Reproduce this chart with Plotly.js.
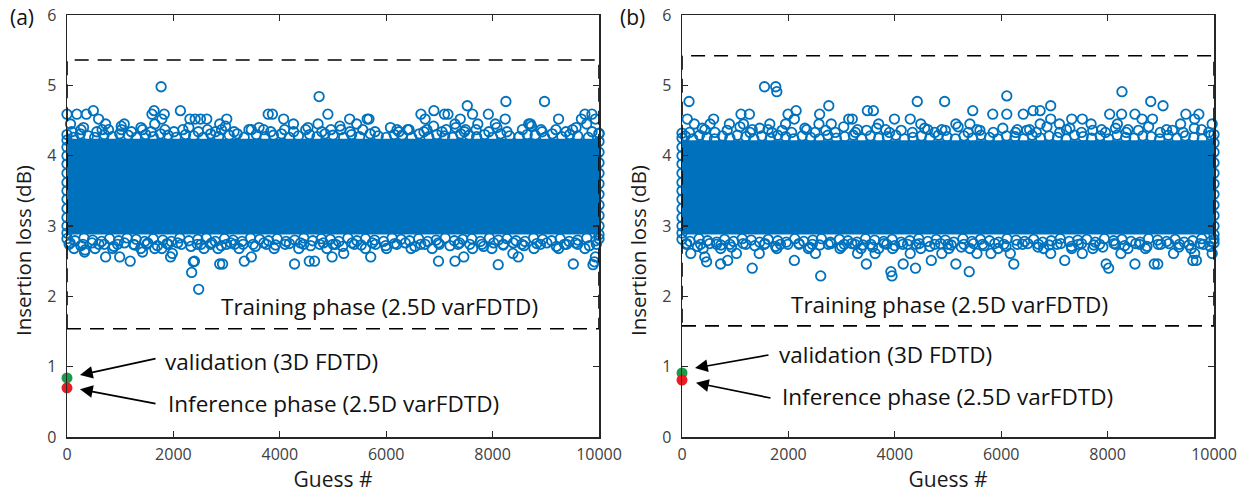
<!DOCTYPE html>
<html><head><meta charset="utf-8">
<script src="https://cdn.plot.ly/plotly-3.0.1.min.js"></script>
<style>html,body{margin:0;padding:0;background:#fff}#chart{width:1245px;height:495px}</style>
</head><body><div id="chart"></div>
<script>
// ---------------- DATA ----------------
const guessRange = [0, 10000];
const xTicks = [0, 2000, 4000, 6000, 8000, 10000];
const yTicks = [0, 1, 2, 3, 4, 5, 6];

// dense training core (solid band) : [low, high] insertion loss (dB)
const coreA = [2.88, 4.24];
const coreB = [2.88, 4.22];
// dashed "training phase" box : [low, high]
const boundsA = [1.54, 5.36];
const boundsB = [1.58, 5.42];

// inference / validation results (guess #0)
const resultGuess = [0, 0];
const inferenceLoss = [0.70, 0.81];   // (a), (b)
const validationLoss = [0.84, 0.91];  // (a), (b)

// ---- panel (a) training guesses ----
const guessA_top = [1769,4739,8250,8976,7524,495,1637,2132,6897,
  0,185,363,1597,1828,3782,3861,4904,6653,7095,7161,7623,7920,9735,9867,
  594,1782,2310,2409,2508,2627,3003,4072,5313,5643,5676,6732,7392,8237,9240,9669,9933,
  66,726,1076,1650,2871,4257,4719,5445,7293,7722,8679,8712,8052,9768,
  264,660,1023,1419,2178,2904,3465,3696,4488,5148,6204,6402,6765,7128,7491,8910,9504];
const lossA_top = [4.98,4.84,4.77,4.77,4.71,4.64,4.64,4.64,4.64,
  4.59,4.59,4.59,4.59,4.59,4.59,4.59,4.59,4.59,4.59,4.59,4.59,4.59,4.59,4.59,
  4.52,4.52,4.52,4.52,4.52,4.52,4.52,4.52,4.52,4.52,4.52,4.52,4.52,4.52,4.52,4.52,4.52,
  4.45,4.45,4.45,4.45,4.45,4.45,4.45,4.45,4.45,4.45,4.45,4.45,4.45,4.45,
  4.37,4.37,4.37,4.37,4.37,4.37,4.37,4.37,4.37,4.37,4.37,4.37,4.37,4.37,4.37,4.37,4.37];
const guessA_edgeHi = [0,120,250,400,520,700,850,990,1150,1300,
  1480,1620,1760,1900,2050,2230,2380,2560,2700,2850,
  3050,3200,3330,3560,3720,3880,4030,4180,4350,4560,
  4700,4850,5000,5200,5350,5500,5700,5850,6000,6150,
  6300,6480,6620,6800,6950,7100,7250,7400,7560,7700,
  7850,8000,8150,8320,8500,8650,8800,8980,9120,9300,
  9450,9600,9800,10000];
const lossA_edgeHi = [4.30,4.26,4.31,4.28,4.26,4.30,4.27,4.31,4.29,4.26,
  4.30,4.27,4.31,4.29,4.26,4.30,4.28,4.26,4.31,4.27,
  4.29,4.31,4.26,4.30,4.27,4.29,4.31,4.26,4.28,4.30,
  4.27,4.31,4.29,4.26,4.30,4.27,4.31,4.28,4.26,4.30,
  4.29,4.26,4.31,4.27,4.30,4.28,4.26,4.31,4.29,4.27,
  4.30,4.26,4.31,4.28,4.27,4.30,4.29,4.26,4.31,4.27,
  4.30,4.28,4.26,4.31];
const guessA_fringeHi = [90,310,560,780,1020,1210,1390,1580,1840,2010,
  2290,2470,2640,2790,2980,3140,3420,3610,3830,4090,
  4260,4530,4790,4960,5130,5320,5560,5790,6080,6240,
  6430,6710,6890,7050,7310,7470,7690,7930,8080,8270,
  8560,8730,8930,9190,9380,9570,9870];
const lossA_fringeHi = [4.34,4.40,4.34,4.37,4.42,4.34,4.40,4.34,4.37,4.34,
  4.40,4.34,4.37,4.34,4.42,4.34,4.37,4.40,4.34,4.37,
  4.34,4.40,4.34,4.37,4.42,4.34,4.37,4.34,4.40,4.34,
  4.37,4.34,4.42,4.34,4.40,4.34,4.37,4.34,4.40,4.34,
  4.37,4.42,4.34,4.37,4.34,4.40,4.34];
const guessA_edgeLo = [0,150,320,480,650,800,970,1130,1300,1460,
  1620,1800,1960,2120,2290,2460,2620,2790,2960,3120,
  3290,3450,3620,3790,3950,4120,4280,4450,4620,4780,
  4950,5110,5280,5450,5610,5780,5950,6110,6280,6440,
  6610,6780,6940,7110,7280,7440,7610,7770,7940,8110,
  8270,8440,8610,8770,8940,9110,9270,9440,9600,9770,
  9940,10000];
const lossA_edgeLo = [2.82,2.79,2.83,2.80,2.78,2.82,2.79,2.83,2.81,2.78,
  2.82,2.80,2.78,2.83,2.79,2.81,2.83,2.78,2.82,2.80,
  2.78,2.83,2.81,2.79,2.82,2.78,2.80,2.83,2.79,2.82,
  2.81,2.78,2.83,2.79,2.82,2.80,2.78,2.83,2.81,2.79,
  2.82,2.78,2.80,2.83,2.79,2.81,2.82,2.78,2.83,2.80,
  2.82,2.79,2.78,2.83,2.81,2.79,2.82,2.78,2.80,2.83,
  2.79,2.82];
const guessA_fringeLo = [60,260,470,700,880,1080,1270,1520,1700,1880,
  2080,2330,2520,2720,2900,3080,3310,3540,3700,3920,
  4180,4390,4580,4820,5000,5180,5360,5530,5740,5990,
  6160,6360,6540,6730,6980,7200,7380,7570,7830,8020,
  8200,8390,8590,8830,9020,9200,9390,9560,9820];
const lossA_fringeLo = [2.76,2.72,2.76,2.74,2.71,2.76,2.73,2.76,2.72,2.75,
  2.76,2.71,2.74,2.76,2.72,2.76,2.74,2.71,2.76,2.73,
  2.75,2.76,2.72,2.76,2.74,2.71,2.76,2.73,2.76,2.72,
  2.75,2.76,2.71,2.74,2.76,2.72,2.76,2.74,2.71,2.76,
  2.73,2.76,2.72,2.75,2.76,2.71,2.74,2.76,2.72];
const guessA_low = [40,300,600,950,1250,1500,1900,2150,2450,2700,
  3000,3150,3500,3750,4100,4450,4750,5050,5400,5800,
  6200,6650,7000,7350,7800,8200,8550,8900,9350,9600,9950,
  132,528,858,1386,1650,1782,2574,2838,3234,3894,
  4356,4884,5610,6006,6468,6864,7623,7986,8778,9240,9735,
  2475,2343,2396,1188,726,990,2871,2924,3333,3465,
  4277,4554,4653,4983,5201,5709,6983,7293,7458,8105,
  8382,8481,9517,9887,9913,9933,330,1947,1980,1419,338,2375];
const lossA_low = [2.74,2.74,2.74,2.74,2.74,2.74,2.74,2.74,2.74,2.74,
  2.74,2.74,2.74,2.74,2.74,2.74,2.74,2.74,2.74,2.74,
  2.74,2.74,2.74,2.74,2.74,2.74,2.74,2.74,2.74,2.74,2.74,
  2.68,2.68,2.68,2.68,2.68,2.68,2.68,2.68,2.68,2.68,
  2.68,2.68,2.68,2.68,2.68,2.68,2.68,2.68,2.68,2.68,2.68,
  2.10,2.34,2.50,2.50,2.56,2.56,2.46,2.46,2.50,2.56,
  2.46,2.50,2.50,2.56,2.61,2.56,2.50,2.50,2.56,2.45,
  2.61,2.56,2.46,2.45,2.49,2.56,2.63,2.56,2.61,2.63,2.66,2.49];
const guessA_sides = [0,0,0,0,0,0,0,0,0,0,0,0,
  10000,10000,10000,10000,10000,10000,10000,10000,10000,10000,10000];
const lossA_sides = [4.22,4.12,4.00,3.88,3.75,3.62,3.50,3.38,3.25,3.12,3.00,2.90,
  4.32,4.20,4.05,3.90,3.75,3.60,3.45,3.30,3.15,3.00,2.88];

// ---- panel (b) training guesses ----
const guessB_top = [1551,1762,1782,132,8270,6105,4422,4937,8811,9042,2759,6930,2145,3485,3597,5465,6600,6732,0,
  1109,1267,1993,2587,5841,6105,6415,8039,8263,8514,9471,9715,
  99,594,2112,3135,3201,3993,4290,6930,7326,7524,8646,8844,9636,
  231,528,891,1155,1650,1947,2574,2805,3696,4488,5148,5412,6732,7095,7689,8184,9372,9966,
  429,1320,1617,2343,3300,3828,4620,4884,5544,6303,6534,7227,7887,8382,9108,9768];
const lossB_top = [4.98,4.98,4.91,4.77,4.91,4.85,4.77,4.77,4.77,4.71,4.71,4.71,4.64,4.64,4.64,4.64,4.64,4.64,4.32,
  4.59,4.59,4.59,4.59,4.59,4.59,4.59,4.59,4.59,4.59,4.59,4.59,
  4.52,4.52,4.52,4.52,4.52,4.52,4.52,4.52,4.52,4.52,4.52,4.52,4.52,
  4.45,4.45,4.45,4.45,4.45,4.45,4.45,4.45,4.45,4.45,4.45,4.45,4.45,4.45,4.45,4.45,4.45,4.45,
  4.37,4.37,4.37,4.37,4.37,4.37,4.37,4.37,4.37,4.37,4.37,4.37,4.37,4.37,4.37,4.37];
const guessB_edgeHi = [60,200,330,470,610,760,900,1040,1200,1350,
  1500,1660,1800,1950,2100,2260,2420,2580,2740,2900,
  3060,3220,3380,3540,3700,3860,4020,4180,4340,4500,
  4660,4820,4980,5140,5300,5460,5620,5780,5940,6100,
  6260,6420,6580,6740,6900,7060,7220,7380,7540,7700,
  7860,8020,8180,8340,8500,8660,8820,8980,9140,9300,
  9460,9620,9780,9940];
const lossB_edgeHi = [4.28,4.24,4.29,4.26,4.24,4.28,4.25,4.29,4.27,4.24,
  4.28,4.25,4.29,4.27,4.24,4.28,4.26,4.24,4.29,4.25,
  4.27,4.29,4.24,4.28,4.25,4.27,4.29,4.24,4.26,4.28,
  4.25,4.29,4.27,4.24,4.28,4.25,4.29,4.26,4.24,4.28,
  4.27,4.24,4.29,4.25,4.28,4.26,4.24,4.29,4.27,4.25,
  4.28,4.24,4.29,4.26,4.25,4.28,4.27,4.24,4.29,4.25,
  4.28,4.26,4.24,4.29];
const guessB_fringeHi = [140,380,620,850,1090,1280,1460,1690,1880,2060,
  2310,2500,2700,2880,3040,3260,3470,3660,3900,4120,
  4330,4560,4750,4950,5190,5380,5600,5850,6030,6270,
  6480,6660,6860,7100,7290,7510,7720,7960,8150,8350,
  8580,8770,8990,9220,9420,9630,9900];
const lossB_fringeHi = [4.33,4.39,4.33,4.36,4.41,4.33,4.39,4.33,4.36,4.33,
  4.39,4.33,4.36,4.33,4.41,4.33,4.36,4.39,4.33,4.36,
  4.33,4.39,4.33,4.36,4.41,4.33,4.36,4.33,4.39,4.33,
  4.36,4.33,4.41,4.33,4.39,4.33,4.36,4.33,4.39,4.33,
  4.36,4.41,4.33,4.36,4.33,4.39,4.33];
const guessB_edgeLo = [0,150,320,480,650,800,970,1130,1300,1460,
  1620,1800,1960,2120,2290,2460,2620,2790,2960,3120,
  3290,3450,3620,3790,3950,4120,4280,4450,4620,4780,
  4950,5110,5280,5450,5610,5780,5950,6110,6280,6440,
  6610,6780,6940,7110,7280,7440,7610,7770,7940,8110,
  8270,8440,8610,8770,8940,9110,9270,9440,9600,9770,
  9940,10000];
const lossB_edgeLo = [2.81,2.78,2.82,2.79,2.77,2.81,2.78,2.82,2.80,2.77,
  2.81,2.79,2.77,2.82,2.78,2.80,2.82,2.77,2.81,2.79,
  2.77,2.82,2.80,2.78,2.81,2.77,2.79,2.82,2.78,2.81,
  2.80,2.77,2.82,2.78,2.81,2.79,2.77,2.82,2.80,2.78,
  2.81,2.77,2.79,2.82,2.78,2.80,2.81,2.77,2.82,2.79,
  2.81,2.78,2.77,2.82,2.80,2.78,2.81,2.77,2.79,2.82,
  2.78,2.81];
const guessB_fringeLo = [90,290,520,730,930,1150,1370,1560,1760,1990,
  2200,2400,2590,2800,3000,3190,3400,3580,3800,4000,
  4240,4460,4660,4860,5060,5250,5480,5680,5880,6090,
  6300,6500,6690,6900,7120,7320,7510,7740,7910,8120,
  8320,8530,8740,8950,9150,9340,9530,9740,9930];
const lossB_fringeLo = [2.75,2.71,2.75,2.73,2.70,2.75,2.72,2.75,2.71,2.74,
  2.75,2.70,2.73,2.75,2.71,2.75,2.73,2.70,2.75,2.72,
  2.74,2.75,2.71,2.75,2.73,2.70,2.75,2.72,2.75,2.71,
  2.74,2.75,2.70,2.73,2.75,2.71,2.75,2.73,2.70,2.75,
  2.72,2.75,2.71,2.74,2.75,2.70,2.73,2.75,2.71];
const guessB_low = [80,350,650,900,1200,1550,1850,2200,2450,2750,
  3050,3250,3550,3850,4150,4400,4750,5000,5300,5650,
  6050,6400,6700,7050,7450,7850,8150,8600,9000,9350,9800,
  165,1023,1452,2508,3300,3630,4290,4884,5544,5808,6171,6930,7524,8250,9240,
  396,726,1782,2376,2970,3366,3696,3960,4488,5016,5412,5940,6798,7326,7722,8382,8712,9570,
  2607,3927,3947,5399,1320,726,858,462,429,2112,3465,4158,4389,
  4686,5148,6237,7194,7973,8019,8514,8877,8943,9603,9669,9636,9966];
const lossB_low = [2.74,2.74,2.74,2.74,2.74,2.74,2.74,2.74,2.74,2.74,
  2.74,2.74,2.74,2.74,2.74,2.74,2.74,2.74,2.74,2.74,
  2.74,2.74,2.74,2.74,2.74,2.74,2.74,2.74,2.74,2.74,2.74,
  2.61,2.61,2.61,2.61,2.61,2.61,2.61,2.61,2.61,2.61,2.61,2.61,2.61,2.61,2.61,
  2.68,2.68,2.68,2.68,2.68,2.68,2.68,2.68,2.68,2.68,2.68,2.68,2.68,2.68,2.68,2.68,2.68,2.68,
  2.29,2.35,2.29,2.35,2.40,2.46,2.51,2.49,2.56,2.51,2.46,2.46,2.40,
  2.51,2.46,2.46,2.51,2.46,2.40,2.46,2.46,2.46,2.51,2.51,2.61,2.61];
const guessB_sides = [0,0,0,0,0,0,0,0,0,0,0,0,
  10000,10000,10000,10000,10000,10000,10000,10000,10000,10000,10000,10000];
const lossB_sides = [4.25,4.12,4.00,3.88,3.75,3.62,3.50,3.38,3.25,3.12,3.00,2.90,
  4.30,4.18,4.05,3.90,3.75,3.60,3.45,3.30,3.15,3.00,2.88,2.76];

// ---------------- STYLE ----------------
const BLUE = '#0072BD';
const FONT = 'Open Sans, Noto Sans, sans-serif';

function cloud(xs, ys, xa, ya) {
  return {type:'scatter', mode:'markers', x:xs, y:ys, xaxis:xa, yaxis:ya, cliponaxis:false,
    hoverinfo:'skip',
    marker:{symbol:'circle-open', size:9.5, color:BLUE, line:{width:1.8}}};
}
function band(core, xa, ya) {
  return {type:'scatter', mode:'lines', xaxis:xa, yaxis:ya, fill:'toself', fillcolor:BLUE,
    line:{width:0, color:BLUE}, hoverinfo:'skip',
    x:[guessRange[0], guessRange[1], guessRange[1], guessRange[0]],
    y:[core[0], core[0], core[1], core[1]]};
}
function box(b, xa, ya) {
  return {type:'scatter', mode:'lines', xaxis:xa, yaxis:ya, cliponaxis:false, hoverinfo:'skip',
    x:[guessRange[0], guessRange[1], guessRange[1], guessRange[0], guessRange[0]],
    y:[b[0], b[0], b[1], b[1], b[0]],
    line:{color:'#000', width:1.6, dash:'14px,9px'}};
}
function dot(x, y, color, xa, ya) {
  return {type:'scatter', mode:'markers', x:[x], y:[y], xaxis:xa, yaxis:ya, cliponaxis:false,
    hoverinfo:'skip', marker:{symbol:'circle', size:11, color:color}};
}

const traces = [
  band(coreA, 'x', 'y'),
  cloud([].concat(guessA_top, guessA_fringeHi, guessA_edgeHi, guessA_edgeLo, guessA_fringeLo, guessA_low, guessA_sides),
        [].concat(lossA_top, lossA_fringeHi, lossA_edgeHi, lossA_edgeLo, lossA_fringeLo, lossA_low, lossA_sides), 'x', 'y'),
  box(boundsA, 'x', 'y'),
  dot(resultGuess[0], validationLoss[0], '#1b9a4b', 'x', 'y'),
  dot(resultGuess[0], inferenceLoss[0], '#ec1c24', 'x', 'y'),

  band(coreB, 'x2', 'y2'),
  cloud([].concat(guessB_top, guessB_fringeHi, guessB_edgeHi, guessB_edgeLo, guessB_fringeLo, guessB_low, guessB_sides),
        [].concat(lossB_top, lossB_fringeHi, lossB_edgeHi, lossB_edgeLo, lossB_fringeLo, lossB_low, lossB_sides), 'x2', 'y2'),
  box(boundsB, 'x2', 'y2'),
  dot(resultGuess[1], validationLoss[1], '#1b9a4b', 'x2', 'y2'),
  dot(resultGuess[1], inferenceLoss[1], '#ec1c24', 'x2', 'y2')
];

function xAxis(domain, anchor) {
  return {domain:domain, anchor:anchor, range:guessRange, tickvals:xTicks,
    ticktext:xTicks.map(String), ticks:'inside', ticklen:6, tickwidth:1.3, tickcolor:'#262626',
    showline:true, linecolor:'#262626', linewidth:1.5, mirror:'ticks', showgrid:false, zeroline:false,
    tickfont:{family:FONT, size:16, color:'#404040'}, ticklabelstandoff:2,
    title:{text:'Guess #', font:{family:FONT, size:21, color:'#1a1a1a'}, standoff:8}, automargin:false};
}
function yAxis(anchor) {
  return {domain:[0,1], anchor:anchor, range:[0,6], tickvals:yTicks,
    ticks:'inside', ticklen:6, tickwidth:1.3, tickcolor:'#262626',
    showline:true, linecolor:'#262626', linewidth:1.5, mirror:'ticks', showgrid:false, zeroline:false,
    tickfont:{family:FONT, size:16, color:'#404040'}, ticklabelstandoff:6, automargin:false};
}

const txtFont = {family:FONT, size:22.5, color:'#111'};
function label(text, x, y, xa, ya, anchor) {
  return {text:text, x:x, y:y, xref:xa, yref:ya, showarrow:false, xanchor:anchor, yanchor:'middle', font:txtFont};
}
function arrow(x, y, ax, ay, xa, ya) {
  return {text:'', x:x, y:y, ax:ax, ay:ay, xref:xa, yref:ya, axref:xa, ayref:ya,
    showarrow:true, arrowhead:2, arrowsize:1.5, arrowwidth:1.7, arrowcolor:'#000', standoff:0, startstandoff:0};
}
function yTitle(xpx) {
  return {text:'Insertion loss (dB)', textangle:-90, x:xpx/1245, y:(437-251)/422, xref:'paper', yref:'paper',
    xanchor:'center', yanchor:'middle', showarrow:false, font:{family:FONT, size:20.5, color:'#1a1a1a'}};
}

const layout = {
  width:1245, height:495,
  margin:{l:0, r:0, t:15, b:58},
  paper_bgcolor:'#fff', plot_bgcolor:'#fff', showlegend:false,
  font:{family:FONT},
  xaxis: xAxis([67/1245, 599/1245], 'y'),
  yaxis: yAxis('x'),
  xaxis2: xAxis([682/1245, 1214/1245], 'y2'),
  yaxis2: yAxis('x2'),
  annotations:[
    {text:'(a)', x:8/1245, y:(437-17)/422, xref:'paper', yref:'paper', xanchor:'left', yanchor:'middle', showarrow:false, font:{family:FONT, size:21, color:'#111'}},
    {text:'(b)', x:618/1245, y:(437-17)/422, xref:'paper', yref:'paper', xanchor:'left', yanchor:'middle', showarrow:false, font:{family:FONT, size:21, color:'#111'}},
    yTitle(23), yTitle(638),
    label('Training phase (2.5D varFDTD)', 5883, 1.86, 'x', 'y', 'center'),
    label('validation (3D FDTD)', 1805, 1.07, 'x', 'y', 'left'),
    label('Inference phase (2.5D varFDTD)', 1861, 0.48, 'x', 'y', 'left'),
    arrow(244, 0.88, 1692, 1.12, 'x', 'y'),
    arrow(244, 0.68, 1692, 0.47, 'x', 'y'),
    label('Training phase (2.5D varFDTD)', 5028, 1.88, 'x2', 'y2', 'center'),
    label('validation (3D FDTD)', 1786, 1.17, 'x2', 'y2', 'left'),
    label('Inference phase (2.5D varFDTD)', 1842, 0.57, 'x2', 'y2', 'left'),
    arrow(244, 0.98, 1654, 1.17, 'x2', 'y2'),
    arrow(263, 0.77, 1692, 0.55, 'x2', 'y2')
  ]
};

Plotly.newPlot('chart', traces, layout, {staticPlot:true, displayModeBar:false});
</script></body></html>
